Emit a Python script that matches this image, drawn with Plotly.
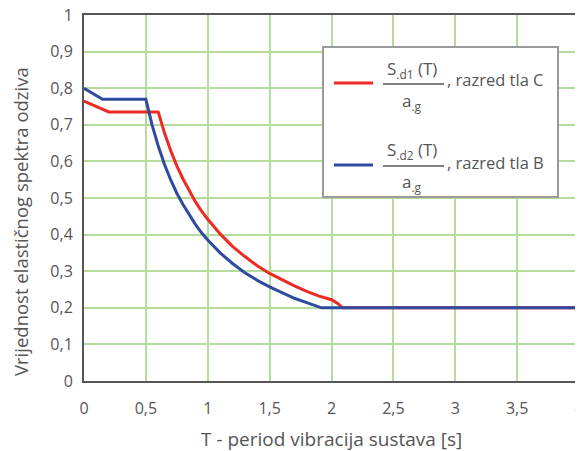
import plotly.graph_objects as go

# Ground type C (red)
t_c = [0.0, 0.2, 0.6, 0.62, 0.65, 0.7, 0.75, 0.8, 0.85, 0.9, 0.95, 1.0, 1.1, 1.2, 1.3, 1.4, 1.5,
       1.6, 1.7, 1.8, 1.9, 2.0, 2.05, 2.09, 4.0]
s_c = [0.765, 0.735, 0.735, 0.71, 0.678, 0.63, 0.588, 0.552, 0.519, 0.49, 0.464, 0.442, 0.402,
       0.368, 0.34, 0.315, 0.294, 0.276, 0.26, 0.245, 0.232, 0.222, 0.212, 0.2, 0.2]

# Ground type B (blue)
t_b = [0.0, 0.15, 0.5, 0.52, 0.55, 0.6, 0.65, 0.7, 0.75, 0.8, 0.85, 0.9, 0.95, 1.0, 1.1, 1.2,
       1.3, 1.4, 1.5, 1.6, 1.7, 1.8, 1.92, 4.0]
s_b = [0.80, 0.77, 0.77, 0.74, 0.70, 0.642, 0.592, 0.55, 0.513, 0.482, 0.453, 0.428, 0.405,
       0.385, 0.35, 0.321, 0.296, 0.275, 0.257, 0.241, 0.226, 0.214, 0.2, 0.2]

x_ticks = [0, 0.5, 1, 1.5, 2, 2.5, 3, 3.5, 4]
x_labels = ["0", "0,5", "1", "1,5", "2", "2,5", "3", "3,5", "4"]
y_ticks = [0, 0.1, 0.2, 0.3, 0.4, 0.5, 0.6, 0.7, 0.8, 0.9, 1]
y_labels = ["0", "0,1", "0,2", "0,3", "0,4", "0,5", "0,6", "0,7", "0,8", "0,9", "1"]

RED = "#ee2a24"
BLUE = "#2f4ba0"
GRID = "#b4dc9a"
AXIS = "#555555"
TXT = "#555555"
FONT = "Open Sans"

fig = go.Figure()
fig.add_trace(go.Scatter(x=t_c, y=s_c, mode="lines", line=dict(color=RED, width=3), showlegend=False))
fig.add_trace(go.Scatter(x=t_b, y=s_b, mode="lines", line=dict(color=BLUE, width=3), showlegend=False))

# page has an 8px body margin: figure drawn from page (8, 8)
OFF = 8
W, H = 583 - OFF, 451 - OFF
PL, PT, PR, PB = 84, 15, 579, 381  # plot area in page pixels
L, T = PL - OFF, PT - OFF
R = W - (PR - OFF)
B = H - (PB - OFF)
pw, ph = PR - PL, PB - PT

def px(x):
    return (x - PL) / pw

def py(y):
    return (PB - y) / ph

shapes = [
    dict(type="rect", xref="paper", yref="paper", x0=px(323), x1=px(558), y0=py(197), y1=py(47),
         line=dict(color="#9a9a9a", width=2), fillcolor="white", layer="above"),
    dict(type="line", xref="paper", yref="paper", x0=px(334), x1=px(373), y0=py(83), y1=py(83),
         line=dict(color=RED, width=3), layer="above"),
    dict(type="line", xref="paper", yref="paper", x0=px(334), x1=px(373), y0=py(165), y1=py(165),
         line=dict(color=BLUE, width=3), layer="above"),
    dict(type="line", xref="paper", yref="paper", x0=px(383), x1=px(444), y0=py(84), y1=py(84),
         line=dict(color="#555555", width=1.5), layer="above"),
    dict(type="line", xref="paper", yref="paper", x0=px(383), x1=px(444), y0=py(166), y1=py(166),
         line=dict(color="#555555", width=1.5), layer="above"),
]

def ann(text, x, y, size=13, xanchor="center", angle=0):
    return dict(text=text, xref="paper", yref="paper", x=px(x), y=py(y), showarrow=False,
                xanchor=xanchor, yanchor="middle", textangle=angle,
                font=dict(family=FONT, size=size, color=TXT))

annotations = [
    ann("S<sub>.d1</sub> (T)", 412, 69, 17),
    ann("a<sub>.g</sub>", 412, 101, 17),
    ann(", razred tla C", 445, 80, 16.5, "left"),
    ann("S<sub>.d2</sub> (T)", 412, 150, 17),
    ann("a<sub>.g</sub>", 412, 183, 17),
    ann(", razred tla B", 445, 162, 16.5, "left"),
    ann("T - period vibracija sustava [s]", 331, 439, 19),
    ann("Vrijednost elastičnog spektra odziva", 20, 222, 18.5, angle=-90),
]

fig.update_layout(
    width=W, height=H,
    margin=dict(l=L, r=R, t=T, b=B, autoexpand=False),
    plot_bgcolor="white", paper_bgcolor="white",
    font=dict(family=FONT, size=16, color=TXT),
    shapes=shapes, annotations=annotations,
    xaxis=dict(range=[0, 4], tickvals=x_ticks, ticktext=x_labels, showgrid=True, gridcolor=GRID,
               gridwidth=1.5, showline=True, linecolor=AXIS, linewidth=2, mirror=True, zeroline=False,
               automargin=False, ticks="", ticklen=0, ticklabelstandoff=12, ticklabeloverflow="allow",
               tickfont=dict(family=FONT, size=16, color=TXT)),
    yaxis=dict(range=[0, 1], tickvals=y_ticks, ticktext=y_labels, showgrid=True, gridcolor=GRID,
               gridwidth=1.5, showline=True, linecolor=AXIS, linewidth=2, mirror=True, zeroline=False,
               automargin=False, ticks="", ticklen=0, ticklabelstandoff=6, ticklabeloverflow="allow",
               tickfont=dict(family=FONT, size=16, color=TXT)),
)

fig.write_html("out.html")
